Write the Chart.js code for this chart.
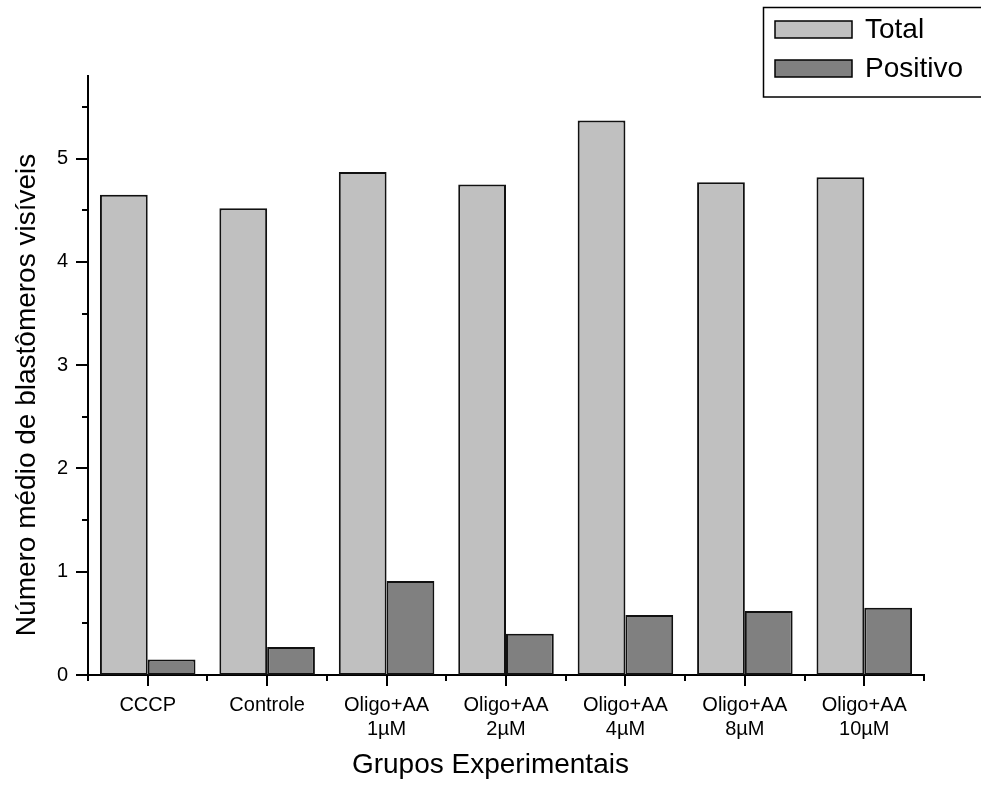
<!DOCTYPE html>
<html>
<head>
<meta charset="utf-8">
<script src="https://cdn.jsdelivr.net/npm/chart.js@4/dist/chart.umd.min.js"></script>
<style>
  html, body { margin: 0; padding: 0; background: #ffffff; }
  #wrap { width: 981px; height: 786px; }
</style>
</head>
<body>
<div id="wrap"><canvas id="chart" width="981" height="786"></canvas></div>
<script>
// Grupos experimentais (rótulos em duas linhas quando necessário)
const categories = [
  'CCCP',
  'Controle',
  ['Oligo+AA', '1µM'],
  ['Oligo+AA', '2µM'],
  ['Oligo+AA', '4µM'],
  ['Oligo+AA', '8µM'],
  ['Oligo+AA', '10µM']
];

// Número médio de blastômeros visíveis por grupo
const totalValues = [4.65, 4.52, 4.87, 4.75, 5.37, 4.77, 4.82];
const positivoValues = [0.15, 0.27, 0.91, 0.40, 0.58, 0.62, 0.65];

const seriesLabels = ['Total', 'Positivo'];
const yTickValues = [0, 1, 2, 3, 4, 5];

const FONT = '"Liberation Sans", Arial, Helvetica, sans-serif';

// Ticks externos (maiores e menores) desenhados a partir das escalas
const axisTicks = {
  id: 'axisTicks',
  afterDraw(chart) {
    const { ctx, chartArea } = chart;
    const x = chart.scales.x, y = chart.scales.y;
    ctx.save();
    ctx.strokeStyle = '#000';
    ctx.lineWidth = 2;
    // eixo Y: ticks maiores nos inteiros, menores nas metades
    for (let v = 0; v <= y.max + 1e-9; v += 0.5) {
      const py = Math.round(y.getPixelForValue(v));
      const major = Math.abs(v - Math.round(v)) < 1e-9;
      const len = major ? 12 : 6;
      ctx.beginPath();
      ctx.moveTo(chartArea.left, py);
      ctx.lineTo(chartArea.left - len, py);
      ctx.stroke();
    }
    // eixo X: ticks maiores no centro de cada grupo, menores nas divisões
    const n = categories.length;
    const centers = [];
    for (let i = 0; i < n; i++) centers.push(x.getPixelForValue(i));
    centers.forEach(cx => {
      ctx.beginPath();
      ctx.moveTo(Math.round(cx), chartArea.bottom);
      ctx.lineTo(Math.round(cx), chartArea.bottom + 11);
      ctx.stroke();
    });
    const bounds = [chartArea.left];
    for (let i = 0; i < n - 1; i++) bounds.push((centers[i] + centers[i + 1]) / 2);
    bounds.push(chartArea.right);
    bounds.forEach(bx => {
      ctx.beginPath();
      ctx.moveTo(Math.round(bx), chartArea.bottom);
      ctx.lineTo(Math.round(bx), chartArea.bottom + 6);
      ctx.stroke();
    });
    ctx.restore();
  }
};

// Legenda em caixa no canto superior direito
const boxLegend = {
  id: 'boxLegend',
  afterDraw(chart) {
    const { ctx } = chart;
    ctx.save();
    ctx.lineWidth = 1.5;
    ctx.strokeStyle = '#000';
    ctx.strokeRect(763.5, 7.5, 240, 89.5);
    const rows = [29, 68];
    chart.data.datasets.forEach((ds, i) => {
      const cy = rows[i];
      ctx.fillStyle = ds.backgroundColor;
      ctx.fillRect(775, cy - 8, 77, 17);
      ctx.lineWidth = 1.5;
      ctx.strokeStyle = '#000';
      ctx.strokeRect(775, cy - 8, 77, 17);
      ctx.fillStyle = '#000';
      ctx.font = '28px ' + FONT;
      ctx.textBaseline = 'middle';
      ctx.textAlign = 'left';
      ctx.fillText(ds.label, 865, cy + 1);
    });
    ctx.restore();
  }
};

new Chart(document.getElementById('chart'), {
  type: 'bar',
  data: {
    labels: categories,
    datasets: [
      {
        label: seriesLabels[0],
        data: totalValues,
        backgroundColor: '#c0c0c0',
        borderColor: '#111111',
        borderWidth: 2,
        borderSkipped: false,
        categoryPercentage: 0.8,
        barPercentage: 1.0
      },
      {
        label: seriesLabels[1],
        data: positivoValues,
        backgroundColor: '#808080',
        borderColor: '#111111',
        borderWidth: 2,
        borderSkipped: false,
        categoryPercentage: 0.8,
        barPercentage: 1.0
      }
    ]
  },
  options: {
    responsive: false,
    animation: false,
    devicePixelRatio: 1,
    layout: { padding: { top: 76, right: 57, left: 0, bottom: 0 } },
    plugins: {
      legend: { display: false },
      tooltip: { enabled: false }
    },
    scales: {
      x: {
        offset: true,
        grid: { display: false, drawTicks: false },
        border: { display: true, color: '#000', width: 2 },
        ticks: {
          color: '#000',
          font: { family: FONT, size: 20 },
          padding: 18,
          maxRotation: 0,
          autoSkip: false
        },
        title: {
          display: true,
          // espaços finais deslocam o título um pouco para a esquerda
          text: 'Grupos Experimentais    ',
          color: '#000',
          font: { family: FONT, size: 28 },
          padding: { top: 0, bottom: 4 }
        },
        afterFit(scale) { scale.height = 111; }
      },
      y: {
        min: 0,
        max: 5.8,
        grid: { display: false, drawTicks: false },
        border: { display: true, color: '#000', width: 2 },
        ticks: {
          stepSize: 1,
          color: '#000',
          font: { family: FONT, size: 20 },
          padding: 20
        },
        afterBuildTicks(scale) {
          scale.ticks = yTickValues.map(v => ({ value: v }));
        },
        title: {
          display: true,
          // espaços finais deslocam o título rotacionado para baixo
          text: 'Número médio de blastômeros visíveis     ',
          color: '#000',
          font: { family: FONT, size: 28 },
          padding: { top: 10, bottom: 0 }
        },
        afterFit(scale) { scale.width = 88; }
      }
    }
  },
  plugins: [axisTicks, boxLegend]
});
</script>
</body>
</html>
